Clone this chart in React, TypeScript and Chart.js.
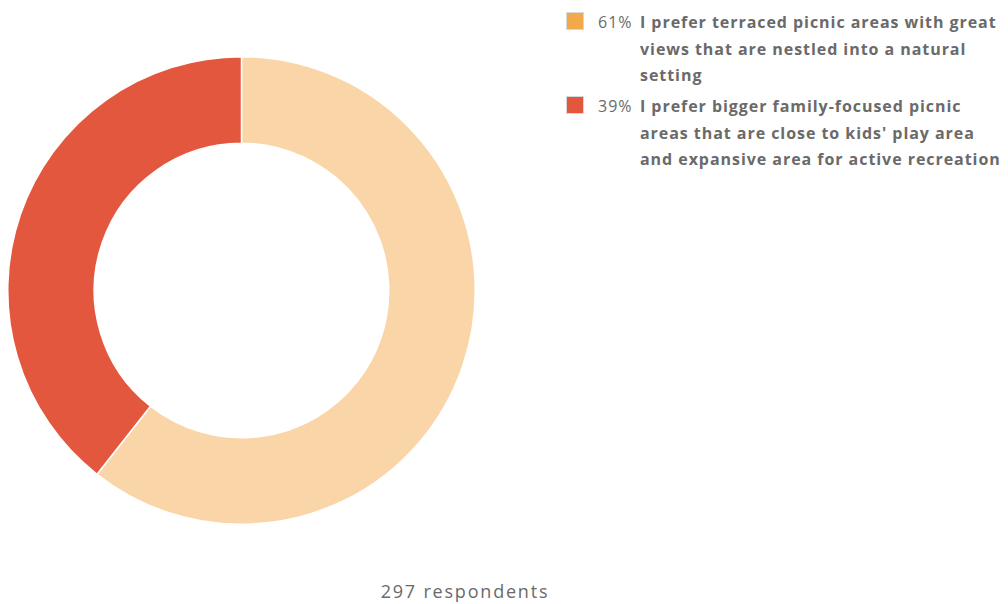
import React, { useEffect, useRef } from "react";
import { Chart, registerables } from "chart.js";

Chart.register(...registerables);

const categories: string[][] = [
  ["I prefer terraced picnic areas with great", "views that are nestled into a natural", "setting"],
  ["I prefer bigger family-focused picnic", "areas that are close to kids' play area", "and expansive area for active recreation"],
];
const percents: number[] = [61, 39];
const counts: number[] = [180, 117];
const sliceColors: string[] = ["#F9D5A8", "#E4573F"];
const swatchColors: string[] = ["#F2A94A", "#E4573F"];
const totalLabel = "297 respondents";

export default function App() {
  const ref = useRef<HTMLCanvasElement | null>(null);
  useEffect(() => {
    if (!ref.current) return;
    const chart = new Chart(ref.current, {
      type: "doughnut",
      data: {
        labels: categories.map((c) => c.join(" ")),
        datasets: [
          {
            data: counts,
            backgroundColor: sliceColors,
            borderColor: "#ffffff",
            borderWidth: 1.5,
          },
        ],
      },
      options: {
        responsive: false,
        animation: false,
        cutout: "63%",
        plugins: { legend: { display: false }, tooltip: { enabled: false } },
        layout: { padding: 0 },
      },
    });
    return () => chart.destroy();
  }, []);

  const font = "'Open Sans', sans-serif";
  return (
    <div style={{ position: "fixed", left: 0, top: 0, width: 1008, height: 604, background: "#fff", fontFamily: font }}>
      <canvas ref={ref} width={469} height={469} style={{ position: "absolute", left: 7, top: 56, width: 469, height: 469 }} />
      <div style={{ position: "absolute", left: 566, top: 9 }}>
        {categories.map((lines, i) => (
          <div key={i} style={{ position: "relative", height: 84 }}>
            <div
              style={{
                position: "absolute",
                left: 0,
                top: 3,
                width: 16,
                height: 16,
                background: swatchColors[i],
                border: "1px solid #d8d8d8",
                boxSizing: "content-box",
              }}
            />
            <div style={{ position: "absolute", left: 32, top: 0, fontSize: 16, letterSpacing: "1px", lineHeight: "26.5px", color: "#6a6a6a" }}>
              {percents[i]}%
            </div>
            <div style={{ position: "absolute", left: 74, top: 0, fontSize: 16, letterSpacing: "0.95px", lineHeight: "26.5px", color: "#6a6a6a", fontWeight: 700, whiteSpace: "nowrap" }}>
              {lines.map((l, j) => (
                <div key={j}>{l}</div>
              ))}
            </div>
          </div>
        ))}
      </div>
      <div style={{ position: "absolute", left: 0, width: 930, top: 579, textAlign: "center", fontSize: 18, letterSpacing: "1.8px", color: "#6a6a6a" }}>
        {totalLabel}
      </div>
    </div>
  );
}
